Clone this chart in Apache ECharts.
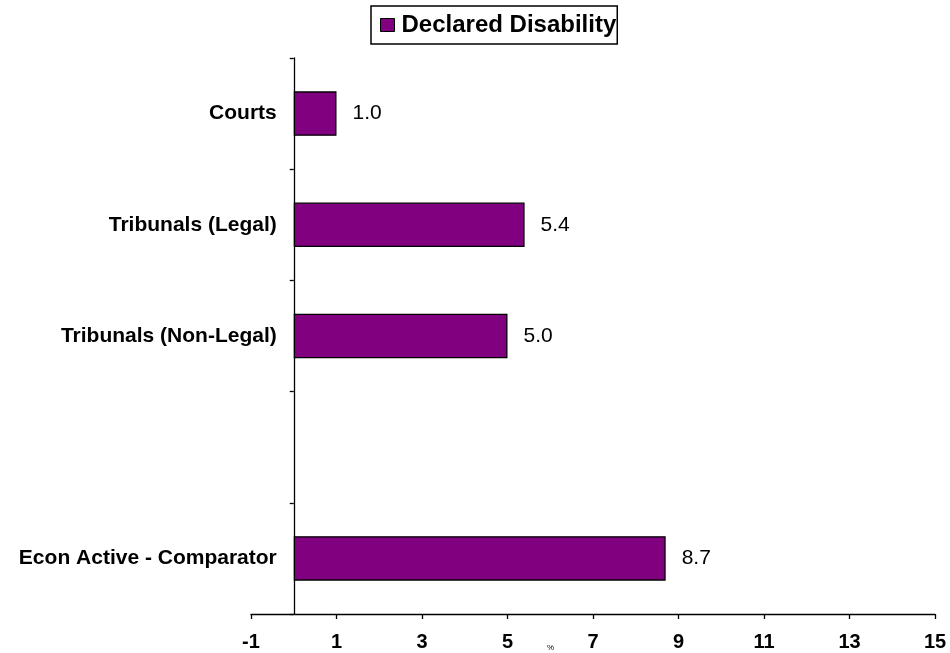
<!DOCTYPE html>
<html>
<head>
<meta charset="utf-8">
<script src="https://cdn.jsdelivr.net/npm/echarts@6/dist/echarts.min.js"></script>
<style>
  html, body { margin: 0; padding: 0; background: #fff; }
  #chart { width: 950px; height: 653px; }
</style>
</head>
<body>
<div id="chart"></div>
<script>
// Share of staff declaring a disability, by workforce group (%)
const categories = ['Courts', 'Tribunals (Legal)', 'Tribunals (Non-Legal)', '', 'Econ Active - Comparator'];
const declaredDisability = [1.0, 5.4, 5.0, null, 8.7];
const seriesName = 'Declared Disability';
const unitLabel = '%';

const FONT = 'Arial, "Liberation Sans", sans-serif';
const PURPLE = '#800080';

const X_MIN = -1, X_MAX = 15;
const GRID_LEFT = 251, GRID_RIGHT = 15;
const chart = echarts.init(document.getElementById('chart'));
// The category axis sits on x = 0: shift it right by one unit of the value axis
const plotWidth = 950 - GRID_LEFT - GRID_RIGHT;
const zeroShift = plotWidth * (0 - X_MIN) / (X_MAX - X_MIN);

chart.setOption({
  animation: false,
  backgroundColor: '#ffffff',
  textStyle: { fontFamily: FONT },
  legend: {
    data: [seriesName],
    left: 371,
    top: 6,
    padding: [7, 1, 7, 9],
    borderColor: '#000',
    borderWidth: 1.5,
    itemWidth: 14,
    itemHeight: 13,
    icon: 'rect',
    itemStyle: { color: PURPLE, borderColor: '#000', borderWidth: 1 },
    textStyle: { fontFamily: FONT, fontWeight: 'bold', fontSize: 24, color: '#000', padding: [0, 0, 0, 2] }
  },
  grid: { left: GRID_LEFT, right: GRID_RIGHT, top: 58, bottom: 39, containLabel: false, outerBoundsMode: 'none' },
  xAxis: {
    type: 'value',
    min: X_MIN,
    max: X_MAX,
    interval: 2,
    splitLine: { show: false },
    axisLine: { show: true, onZero: false, lineStyle: { color: '#000', width: 1.3 } },
    axisTick: { show: true, length: 5, lineStyle: { color: '#000', width: 1.3 } },
    axisLabel: { fontFamily: FONT, fontWeight: 'bold', fontSize: 20, color: '#000', margin: 18 }
  },
  yAxis: {
    type: 'category',
    data: categories,
    inverse: true,
    offset: -zeroShift,
    axisLine: { show: true, onZero: false, lineStyle: { color: '#000', width: 1.3 } },
    axisTick: { show: true, length: 4, lineStyle: { color: '#000', width: 1.3 } },
    axisLabel: { fontFamily: FONT, fontWeight: 'bold', fontSize: 21, color: '#000', margin: 17 }
  },
  series: [{
    name: seriesName,
    type: 'bar',
    data: declaredDisability,
    barWidth: '40%',
    itemStyle: { color: PURPLE, borderColor: '#000', borderWidth: 1.3 },
    label: {
      show: true,
      position: 'right',
      distance: 16,
      fontFamily: FONT,
      fontSize: 21,
      color: '#000',
      formatter: p => (p.value == null ? '' : p.value.toFixed(1))
    }
  }],
  graphic: [{
    type: 'text',
    left: 547,
    top: 644,
    style: { text: unitLabel, fontFamily: FONT, fontSize: 8, fill: '#000' }
  }]
});
</script>
</body>
</html>
